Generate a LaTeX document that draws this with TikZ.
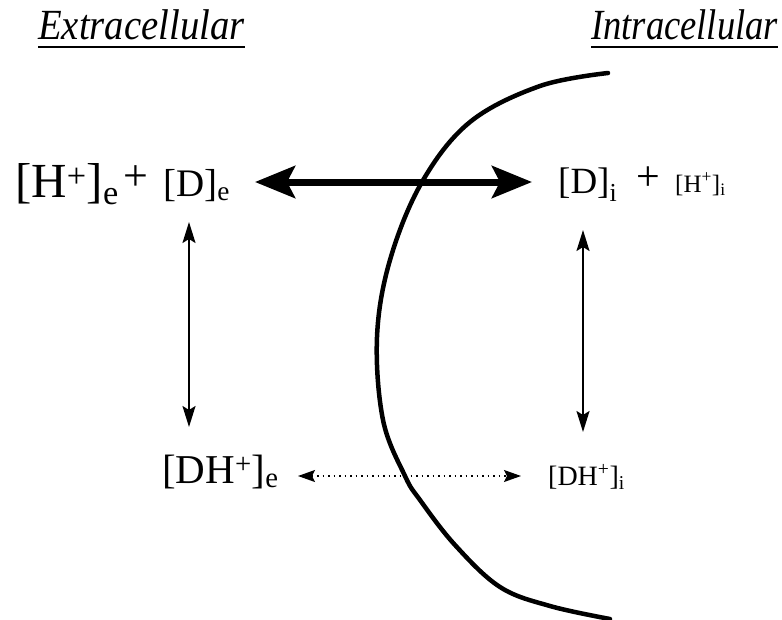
\documentclass[tikz,border=0pt]{standalone}
\usepackage{fontspec}
\setmainfont{Liberation Serif}
\newfontfamily\titlefont[FakeStretch=0.9]{Liberation Serif}
\newfontfamily\titlefontn[FakeStretch=0.85]{Liberation Serif}
\usetikzlibrary{arrows.meta}
\newcommand\fsz[1]{\fontsize{#1}{#1}\selectfont}
\tikzset{
  lbl/.style={inner sep=0pt, anchor=base west},
  title/.style={inner sep=0pt, anchor=base west, font=\titlefont\fsz{43}\itshape},
  titlen/.style={inner sep=0pt, anchor=base west, font=\titlefontn\fsz{43}\itshape},
  uline/.style={line width=1.8pt},
  thickarrow/.style={line width=7pt, {Stealth[length=40pt,width=32pt,inset=8pt]}-{Stealth[length=40pt,width=32pt,inset=8pt]}},
  thinarrow/.style={line width=2pt, {Stealth[length=21pt,width=13pt,inset=4pt]}-{Stealth[length=21pt,width=13pt,inset=4pt]}},
  dotarrow/.style={line width=1.3pt, dash pattern=on 1.5pt off 4pt, {Stealth[length=17pt,width=12pt,inset=3pt]}-{Stealth[length=17pt,width=12pt,inset=3pt]}},
  membrane/.style={line width=4.5pt, line cap=round}
}
\begin{document}
\begin{tikzpicture}[x=1pt,y=-1pt]
\useasboundingbox (0,0) rectangle (782,619);
% titles
\node[title] (ext) at (38,39) {Extracellular};
\node[titlen] (int) at (591,39) {Intracellular};
\draw[uline] ([yshift=-8pt]ext.base west) -- ([yshift=-8pt]ext.base east);
\draw[uline] ([yshift=-8pt]int.base west) -- ([yshift=-8pt]int.base east);
% species
\node[lbl] (he) at (15,197) {\fsz{49}[H\textsuperscript{+}]\textsubscript{e}};
\node[lbl] (p1) at (123,190) {\fsz{44}+};
\node[lbl] (de) at (163,196) {\fsz{39}[D]\textsubscript{e}};
\node[lbl] (di) at (558,193) {\fsz{37}[D]\textsubscript{i}};
\node[lbl] (p2) at (636,190) {\fsz{42}+};
\node[lbl] (hi) at (675,192) {\fsz{25}[H\textsuperscript{+}]\textsubscript{i}};
\node[lbl] (dhe) at (162,483) {\fsz{41}[DH\textsuperscript{+}]\textsubscript{e}};
\node[lbl] (dhi) at (548,485) {\fsz{28}[DH\textsuperscript{+}]\textsubscript{i}};
% membrane
\draw[membrane] plot[smooth, tension=0.6] coordinates {(608,73) (540,86) (470,122) (422,182) (390,260) (377,337) (383,420) (405,476) (420,500) (455,545) (500,587) (550,606) (610,619)};
% arrow end points
\coordinate (ta) at (255,182);
\coordinate (tb) at (532,182);
\coordinate (la) at (189,222);
\coordinate (lb) at (189,427);
\coordinate (ra) at (583,230);
\coordinate (rb) at (583,432);
\coordinate (da) at (298,476);
\coordinate (db) at (521,476);
\draw[thickarrow] (ta) -- (tb);
\draw[thinarrow] (la) -- (lb);
\draw[thinarrow] (ra) -- (rb);
\draw[dotarrow] (da) -- (db);
\end{tikzpicture}
\end{document}
